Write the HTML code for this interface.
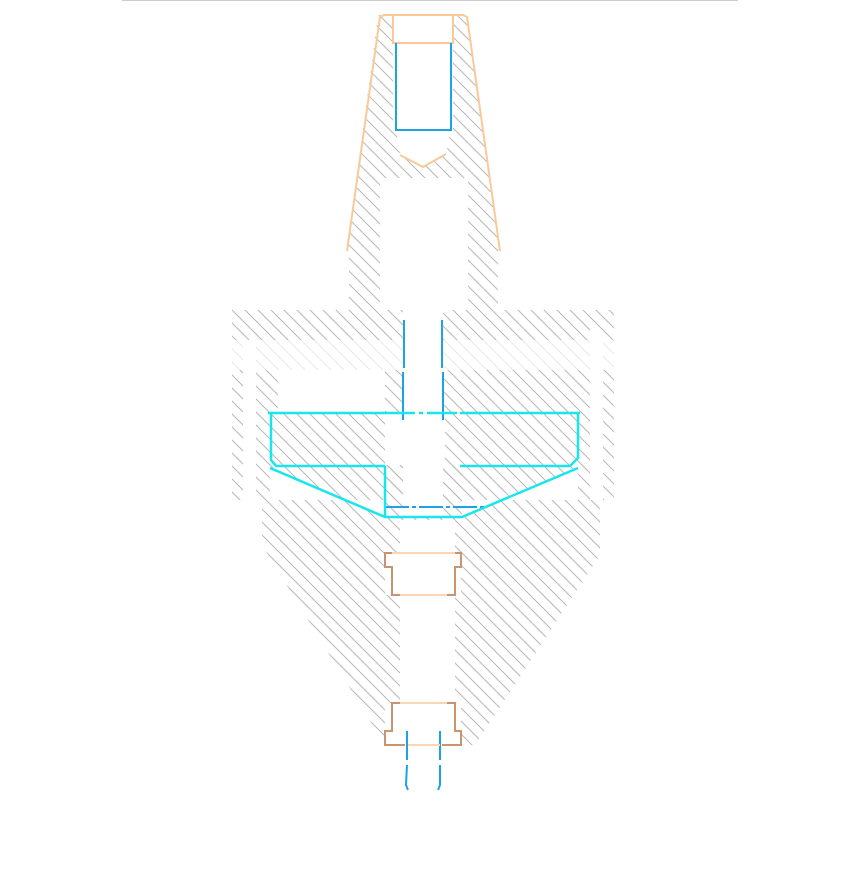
<!DOCTYPE html>
<html><head><meta charset="utf-8"><style>html,body{margin:0;padding:0;background:#fff}svg{display:block}</style></head>
<body>
<svg width="860" height="892" viewBox="0 0 860 892" xmlns="http://www.w3.org/2000/svg">
<defs>
<pattern id="h" width="13" height="13" patternUnits="userSpaceOnUse">
<path d="M-1,-1 L14,14 M-1,12 L1,14 M12,-1 L14,1" stroke="#b8b8b8" stroke-width="1"/>
</pattern>
<pattern id="hl" width="13" height="13" patternUnits="userSpaceOnUse">
<path d="M-1,-1 L14,14 M-1,12 L1,14 M12,-1 L14,1" stroke="#e8e8e8" stroke-width="1"/>
</pattern>
</defs>
<line x1="122" y1="0.5" x2="738" y2="0.5" stroke="#ccc"/>
<polygon points="378,15 467,15 500,251 498,251 498,310 349,310 349,251 347,251" fill="url(#h)"/>
<rect x="380" y="178" width="88" height="140" fill="#fff"/>
<rect x="393" y="15" width="60" height="115" fill="#fff"/>
<polygon points="396,130 451,130 446,154 423,167 400,155" fill="#fff"/>
<rect x="232" y="310" width="382" height="190" fill="url(#h)"/>
<rect x="232" y="340" width="382" height="30" fill="#fff"/>
<rect x="232" y="340" width="382" height="30" fill="url(#hl)"/>
<rect x="243" y="340" width="13" height="160" fill="#fff"/>
<rect x="590" y="330" width="13" height="170" fill="#fff"/>
<rect x="278" y="370" width="107" height="43" fill="#fff"/>
<rect x="403" y="310" width="40" height="215" fill="#fff"/>
<rect x="385" y="413" width="60" height="52" fill="#fff"/>
<polygon points="262,500 600,500 600,555 475,745 385,745 262,545" fill="url(#h)"/>
<polygon points="270,468 385,517 462,517 578,468 578,500 270,500" fill="#fff"/>
<rect x="385" y="465" width="77" height="52" fill="url(#h)"/>
<rect x="403" y="465" width="40" height="52" fill="#fff"/>
<rect x="400" y="520" width="55" height="280" fill="#fff"/>
<rect x="385" y="553" width="76" height="42" fill="#fff"/>
<rect x="385" y="703" width="76" height="42" fill="#fff"/>
<g fill="none" stroke="#fbc998" stroke-width="2">
<polyline points="347,251 380,17 384,15 463,15 467,17 500,251"/>
<polyline points="393,15 393,43 453,43 453,15"/>
<polyline points="400,155 423,167 446,154"/>
</g>
<g fill="none" stroke="#1ea2e6" stroke-width="2">
<polyline points="396,43 396,130 451,130 451,43"/>
<line x1="404" y1="320" x2="404" y2="368"/><line x1="403" y1="372" x2="403" y2="420"/>
<line x1="442" y1="320" x2="442" y2="368"/><line x1="443" y1="372" x2="443" y2="420"/>
<line x1="385" y1="507" x2="487" y2="507" stroke-dasharray="24,3,4,3"/>
<line x1="407" y1="731" x2="407" y2="760"/><polyline points="407,765 406,785 408,790"/>
<line x1="440" y1="731" x2="440" y2="760"/><polyline points="440,765 440,785 438,790"/>
</g>
<g fill="none" stroke="#17e6ee" stroke-width="2.5">
<polyline points="268,413 385,413"/><polyline points="460,413 580,413"/>
<line x1="385" y1="413" x2="460" y2="413" stroke-dasharray="30,4,4,4"/>
<polyline points="271,413 271,460 276,466 385,466"/>
<polyline points="578,413 578,458 570,466 460,466"/>
<polyline points="270,468 385,517 462,517 578,468"/>
<line x1="385" y1="466" x2="385" y2="517"/>
</g>
<g fill="none" stroke="#c99470" stroke-width="2">
<polyline points="392,553 385,553 385,567 392,567 392,595 400,595"/>
<polyline points="455,553 461,553 461,567 455,567 455,595 447,595"/>
<polyline points="400,703 392,703 392,731 385,731 385,745 405,745"/>
<polyline points="447,703 455,703 455,731 461,731 461,745 442,745"/>
</g>
<g stroke="#fcd6b4" stroke-width="2">
<line x1="392" y1="553" x2="455" y2="553"/><line x1="400" y1="595" x2="447" y2="595"/>
<line x1="400" y1="703" x2="447" y2="703"/><line x1="408" y1="745" x2="440" y2="745"/>
</g>
</svg>
</body></html>
